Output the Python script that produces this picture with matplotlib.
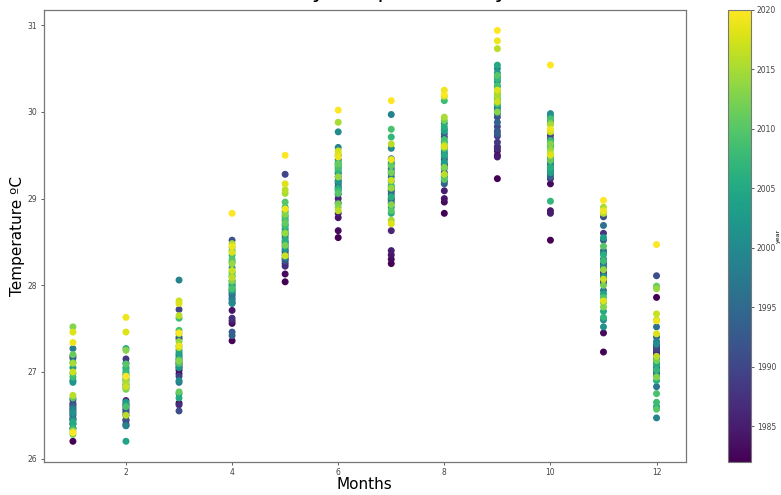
import matplotlib
matplotlib.use("Agg")
import matplotlib.pyplot as plt
import numpy as np

years = list(range(1982, 2021))
months = list(range(1, 13))

jan = [26.20, 26.62, 26.45, 26.55, 26.40, 26.68, 26.35, 26.50, 27.18, 26.64,
       27.16, 26.58, 26.60, 26.47, 26.52, 26.90, 27.27, 26.57, 26.45, 26.53,
       26.88, 27.05, 26.40, 26.42, 27.11, 26.35, 26.94, 26.98, 26.70, 27.20,
       26.28, 27.52, 26.32, 27.10, 26.73, 27.00, 27.46, 27.34, 26.30]
feb = [26.44, 26.57, 26.50, 26.63, 26.67, 26.53, 27.15, 26.40, 26.60, 27.10,
       26.45, 26.55, 26.38, 26.82, 26.62, 26.92, 26.85, 26.38, 27.05, 26.96,
       27.00, 26.65, 26.20, 27.27, 26.90, 27.03, 26.98, 26.60, 27.09, 26.86,
       26.80, 27.25, 26.92, 26.88, 26.50, 26.83, 27.46, 27.63, 26.95]
mar = [26.64, 27.02, 26.98, 27.05, 27.10, 26.62, 27.08, 26.95, 27.72, 26.55,
       27.40, 27.38, 27.15, 27.12, 26.88, 27.18, 27.20, 28.06, 26.90, 27.25,
       27.05, 26.75, 27.22, 26.70, 27.15, 27.30, 27.62, 27.48, 27.10, 26.77,
       27.44, 27.13, 27.35, 27.28, 27.65, 27.82, 27.79, 27.30, 27.45]
apr = [27.36, 27.56, 27.71, 27.59, 27.80, 27.62, 28.05, 27.90, 27.85, 28.52,
       27.95, 27.46, 27.42, 28.00, 27.88, 28.27, 27.92, 27.83, 27.79, 28.10,
       28.20, 27.94, 28.02, 28.15, 27.98, 28.35, 28.40, 27.96, 28.30, 28.12,
       28.44, 28.05, 28.25, 28.48, 28.09, 28.17, 28.38, 28.45, 28.83]
may = [28.04, 28.13, 28.25, 28.30, 28.40, 28.22, 28.35, 28.45, 29.28, 28.50,
       28.28, 28.60, 28.38, 28.55, 28.70, 28.48, 28.65, 28.32, 28.75, 28.58,
       28.42, 28.80, 28.85, 28.62, 28.52, 28.90, 28.68, 28.78, 28.96, 28.72,
       28.46, 28.82, 28.60, 29.06, 29.10, 28.34, 29.17, 28.88, 29.50]
jun = [28.55, 28.63, 28.78, 28.83, 29.00, 29.25, 28.95, 29.05, 29.18, 29.29,
       29.10, 29.35, 29.15, 29.21, 29.45, 29.13, 29.40, 29.59, 29.77, 29.30,
       29.20, 29.50, 29.38, 29.12, 29.42, 29.32, 29.09, 29.36, 29.06, 29.40,
       28.94, 28.90, 29.25, 29.88, 28.86, 29.55, 29.52, 29.48, 30.02]
jul = [28.25, 28.30, 28.35, 28.40, 28.63, 29.00, 28.95, 29.10, 29.29, 29.05,
       29.35, 29.13, 29.40, 29.08, 28.98, 29.46, 29.25, 29.97, 29.58, 29.32,
       29.20, 28.90, 29.42, 28.83, 29.02, 29.71, 29.15, 29.80, 28.86, 29.38,
       29.30, 28.93, 29.12, 28.75, 29.63, 29.21, 28.71, 29.45, 30.13]
aug = [28.83, 28.96, 29.00, 29.09, 29.20, 29.38, 29.30, 29.45, 29.71, 29.52,
       29.40, 29.75, 29.17, 29.60, 29.48, 29.80, 29.35, 29.87, 29.25, 29.55,
       29.65, 29.42, 29.78, 29.50, 29.83, 29.27, 30.13, 29.68, 29.22, 29.58,
       29.90, 29.36, 29.62, 29.94, 29.28, 30.18, 29.60, 30.25, 30.20]
sep = [29.23, 29.50, 29.55, 29.48, 29.60, 29.58, 29.65, 29.72, 29.83, 29.94,
       29.78, 29.75, 29.88, 29.98, 30.02, 30.30, 30.05, 30.40, 30.50, 30.12,
       30.35, 30.45, 30.08, 30.54, 30.25, 30.38, 30.15, 30.30, 30.42, 30.10,
       30.20, 30.00, 30.22, 30.18, 30.73, 30.12, 30.25, 30.82, 30.94]
oct_ = [28.52, 29.17, 28.86, 28.83, 29.23, 29.31, 29.42, 29.69, 29.73, 29.28,
        29.35, 29.60, 29.25, 29.45, 29.38, 29.90, 29.62, 29.40, 29.98, 29.33,
        29.95, 29.65, 29.30, 29.48, 29.36, 28.97, 29.67, 29.92, 29.59, 29.44,
        29.87, 29.63, 29.56, 29.85, 29.52, 29.77, 29.50, 29.80, 30.54]
nov = [27.23, 27.45, 28.05, 28.20, 28.15, 28.08, 28.60, 28.25, 28.02, 28.79,
       28.12, 28.52, 28.30, 28.40, 28.69, 27.94, 28.37, 28.22, 27.60, 27.52,
       28.10, 28.55, 27.90, 27.70, 28.35, 27.63, 28.28, 27.86, 28.45, 27.80,
       28.00, 27.75, 28.18, 28.90, 28.83, 28.07, 27.82, 28.86, 28.98]
dec = [27.86, 27.20, 27.25, 27.17, 27.30, 27.22, 27.00, 27.28, 27.27, 28.11,
       27.12, 27.05, 26.98, 27.40, 27.52, 26.83, 27.35, 26.47, 27.32, 27.10,
       26.95, 27.15, 26.60, 27.08, 26.90, 27.02, 26.65, 26.75, 26.57, 27.99,
       27.13, 26.94, 27.96, 27.60, 27.18, 27.67, 27.44, 27.59, 28.47]

monthly = [jan, feb, mar, apr, may, jun, jul, aug, sep, oct_, nov, dec]

x_vals, y_vals, c_vals = [], [], []
for m, temps in zip(months, monthly):
    for yr, t in zip(years, temps):
        x_vals.append(m)
        y_vals.append(t)
        c_vals.append(yr)

fig = plt.figure(figsize=(7.81, 4.95), dpi=100)
ax = fig.add_axes([0.056, 0.067, 0.822, 0.913])
cax = fig.add_axes([0.932, 0.067, 0.029, 0.913])

sc = ax.scatter(x_vals, y_vals, c=c_vals, cmap="viridis", s=16,
                vmin=1982, vmax=2020)

ax.set_xticks([2, 4, 6, 8, 10, 12])
ax.set_yticks([26, 27, 28, 29, 30, 31])
ax.tick_params(labelsize=5.5, length=2.5, width=0.6, colors="#444444", pad=2)
for sp in ax.spines.values():
    sp.set_color("#777777")
    sp.set_linewidth(0.9)
ax.set_xlabel("Months", fontsize=11, labelpad=0)
ax.set_ylabel("Temperature ºC", fontsize=11, labelpad=2)

cb = fig.colorbar(sc, cax=cax, ticks=[1985, 1990, 1995, 2000, 2005, 2010, 2015, 2020])
cb.ax.tick_params(labelsize=5.5, length=2.5, width=0.6, colors="#444444", pad=2)
cb.outline.set_edgecolor("#777777")
cb.set_label("year", fontsize=4.5, labelpad=0)

fig.text(0.511, 1.005, "Monthly Temperature by Year", ha="center", va="baseline",
         fontsize=16)

fig.savefig("out.png", dpi=100)
